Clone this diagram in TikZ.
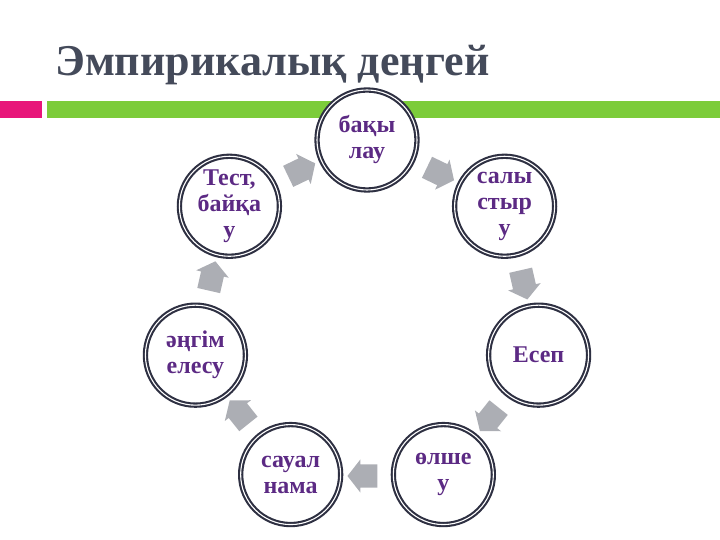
\documentclass[tikz,border=0pt]{standalone}
\usepackage{fontspec}
\setmainfont{Liberation Serif}
\usepackage{tikz}
\usetikzlibrary{shapes.arrows}
\usetikzlibrary{calc}
\definecolor{titlegray}{RGB}{68,74,90}
\definecolor{ringblue}{RGB}{46,48,66}
\definecolor{textpurple}{RGB}{92,42,132}
\definecolor{arrowgray}{RGB}{172,174,180}
\definecolor{pinkbar}{RGB}{232,22,122}
\definecolor{greenbar}{RGB}{124,204,58}

\begin{document}
\begin{tikzpicture}[x=1pt,y=1pt, font=\bfseries\fontsize{24}{26}\selectfont,
  cerchio/.style={circle, draw=ringblue, line width=2.1pt, double=white, double distance=1.1pt,
    fill=white, minimum size=100pt, inner sep=0pt, align=center, text=textpurple},
  freccia/.style={single arrow, fill=arrowgray, minimum height=30pt,
    single arrow head extend=5pt, single arrow tip angle=104, inner sep=0pt}]

\useasboundingbox (0,0) rectangle (720,540);

% --- Titolo e barre
\node[anchor=base west, inner sep=0pt, text=titlegray, font=\bfseries\fontsize{44}{48}\selectfont]
  (titolo) at (55,464) {Эмпирикалық деңгей};
\fill[pinkbar] (0,422) rectangle (42,439);
\fill[greenbar] (47,422) rectangle (720,439);

% --- Centro del ciclo
\coordinate (c) at (367,224);

% --- Cerchi
\node[cerchio] (bakylau) at ($(c)+(90:176)$) {бақы\\лау};
\node[cerchio] (salystyru) at ($(c)+(38.57:176)$) {салы\\стыр\\у};
\node[cerchio] (esep) at ($(c)+(-12.86:176)$) {Есеп};
\node[cerchio] (olsheu) at ($(c)+(-64.29:176)$) {өлше\\у};
\node[cerchio] (saualnama) at ($(c)+(-115.71:176)$) {сауал\\нама};
\node[cerchio] (angimelesu) at ($(c)+(192.86:176)$) {әңгім\\елесу};
\node[cerchio] (testbaikau) at ($(c)+(141.43:176)$) {Тест,\\байқа\\у};

% --- Frecce
\node[freccia, rotate=-25.71] (f1) at ($(c)+(64.29:160)$) {\rule{0pt}{23pt}};
\node[freccia, rotate=-77.14] (f2) at ($(c)+(12.86:160)$) {\rule{0pt}{23pt}};
\node[freccia, rotate=-128.57] (f3) at ($(c)+(-38.57:160)$) {\rule{0pt}{23pt}};
\node[freccia, rotate=180] (f4) at ($(c)+(-90:160)$) {\rule{0pt}{23pt}};
\node[freccia, rotate=128.57] (f5) at ($(c)+(-141.43:160)$) {\rule{0pt}{23pt}};
\node[freccia, rotate=77.14] (f6) at ($(c)+(167.14:160)$) {\rule{0pt}{23pt}};
\node[freccia, rotate=25.71] (f7) at ($(c)+(115.71:160)$) {\rule{0pt}{23pt}};
\end{tikzpicture}
\end{document}
